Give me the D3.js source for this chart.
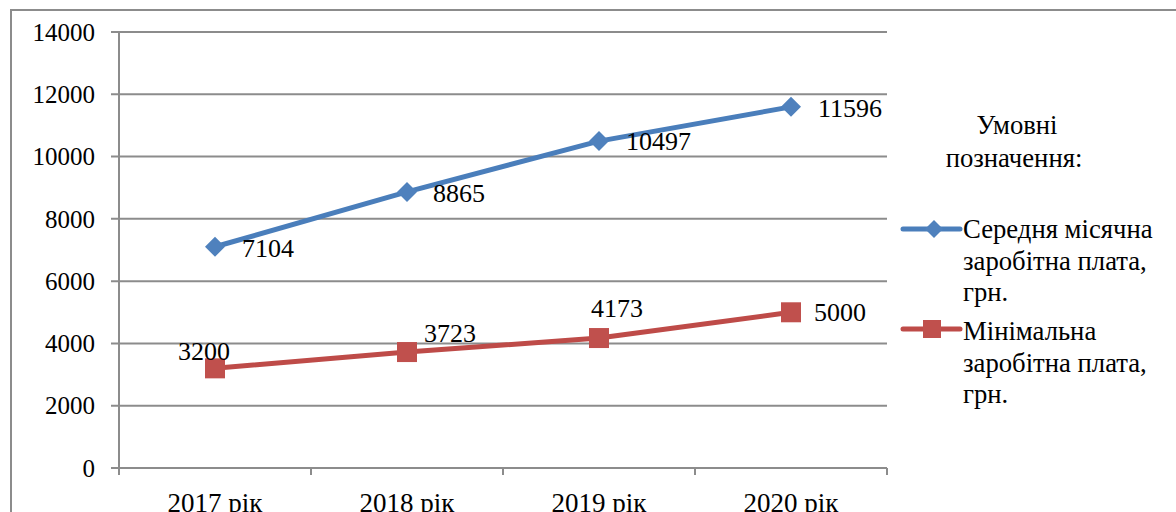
<!DOCTYPE html>
<html><head><meta charset="utf-8">
<script src="https://cdn.jsdelivr.net/npm/d3@7"></script>
<style>body{margin:0;background:#fff;} svg{display:block;}</style>
</head><body>
<svg id="c" width="1176" height="512"></svg>
<script>
const categories = ["2017 рік", "2018 рік", "2019 рік", "2020 рік"];
const avgWage = [7104, 8865, 10497, 11596];
const minWage = [3200, 3723, 4173, 5000];
const seriesNames = ["Середня місячна заробітна плата, грн.", "Мінімальна заробітна плата, грн."];
const yTicks = [0, 2000, 4000, 6000, 8000, 10000, 12000, 14000];
const legendTitle = ["Умовні", "позначення:"];

const FONT = "Liberation Serif";
const svg = d3.select("#c");
const grid = "#8c8c8c";
const m = {l:119, t:32, r:887, b:468};

// outer border
svg.append("path").attr("d", "M11,512V10H1176").attr("fill","none").attr("stroke", grid).attr("stroke-width", 2);

const x = d3.scaleBand().domain(categories).range([m.l, m.r]).padding(0);
const y = d3.scaleLinear().domain([0, 14000]).range([m.b, m.t]);

// gridlines
svg.append("g").selectAll("line").data(yTicks).join("line")
  .attr("x1", m.l - 8).attr("x2", m.r).attr("y1", d => y(d)).attr("y2", d => y(d))
  .attr("stroke", grid).attr("stroke-width", 2);

// y axis line
svg.append("line").attr("x1", m.l).attr("x2", m.l).attr("y1", m.t).attr("y2", m.b + 7)
  .attr("stroke", grid).attr("stroke-width", 2);
// x ticks
const xt = categories.map(c => x(c)).concat([x(categories[categories.length-1]) + x.bandwidth()]);
svg.append("g").selectAll("line").data(xt.slice(1)).join("line")
  .attr("x1", d => d).attr("x2", d => d).attr("y1", m.b).attr("y2", m.b + 7)
  .attr("stroke", grid).attr("stroke-width", 2);

// y tick labels
svg.append("g").selectAll("text").data(yTicks).join("text")
  .attr("x", 95).attr("y", d => y(d)).attr("dy", "0.35em")
  .attr("text-anchor", "end").style("font-family", FONT).attr("font-size", 25).attr("fill", "#000")
  .text(d => d);

// x labels
svg.append("g").selectAll("text").data(categories).join("text")
  .attr("x", d => x(d) + x.bandwidth()/2).attr("y", 512)
  .attr("text-anchor", "middle").style("font-family", FONT).attr("font-size", 27).attr("fill", "#000")
  .text(d => d);

const cx = (d, i) => x(categories[i]) + x.bandwidth()/2;
const line = d3.line().x((d,i) => cx(d,i)).y(d => y(d));

const blueLine = "#4a7ebb", blueMark = "#4f81bd";
const redLine = "#be4b48", redMark = "#c0504d";

svg.append("path").datum(avgWage).attr("d", line).attr("fill","none").attr("stroke", blueLine).attr("stroke-width", 5).attr("stroke-linejoin","round");
svg.append("path").datum(minWage).attr("d", line).attr("fill","none").attr("stroke", redLine).attr("stroke-width", 5).attr("stroke-linejoin","round");

const diamond = s => `M0,${-s}L${s},0L0,${s}L${-s},0Z`;
svg.append("g").selectAll("path").data(avgWage).join("path")
  .attr("d", diamond(10)).attr("transform", (d,i) => `translate(${cx(d,i)},${y(d)})`).attr("fill", blueMark);
svg.append("g").selectAll("rect").data(minWage).join("rect")
  .attr("x", (d,i) => cx(d,i) - 10).attr("y", d => y(d) - 10).attr("width", 20).attr("height", 20).attr("fill", redMark);

// data labels
const blueOff = [[27,10],[26,10],[27,9],[27,10]];
const redOff = [[-37,-8],[17,-10],[-8,-21],[23,9]];
svg.append("g").selectAll("text").data(avgWage).join("text")
  .attr("x", (d,i) => cx(d,i) + blueOff[i][0]).attr("y", (d,i) => y(d) + blueOff[i][1])
  .style("font-family", FONT).attr("font-size", 26).attr("fill", "#000").text(d => d);
svg.append("g").selectAll("text").data(minWage).join("text")
  .attr("x", (d,i) => cx(d,i) + redOff[i][0]).attr("y", (d,i) => y(d) + redOff[i][1])
  .style("font-family", FONT).attr("font-size", 26).attr("fill", "#000").text(d => d);

// legend
const lg = svg.append("g");
const lt = (xx, yy, t, anchor) => lg.append("text").attr("x", xx).attr("y", yy).attr("text-anchor", anchor || "start")
  .style("font-family", FONT).attr("font-size", 26.7).attr("fill", "#000").text(t);
lt(1017, 134, legendTitle[0], "middle");
lt(1014, 167, legendTitle[1], "middle");

const wrap = [["Середня місячна", "заробітна плата,", "грн."], ["Мінімальна", "заробітна плата,", "грн."]];
const items = [
  {name: seriesNames[0], lines: wrap[0], ly: 229, ty: 238, c: blueLine, mk: "d", mc: blueMark},
  {name: seriesNames[1], lines: wrap[1], ly: 329, ty: 340, c: redLine, mk: "s", mc: redMark}
];
items.forEach(it => {
  lg.append("line").attr("x1", 903).attr("x2", 960).attr("y1", it.ly).attr("y2", it.ly).attr("stroke", it.c).attr("stroke-width", 5).attr("stroke-linecap","round");
  if (it.mk === "d") lg.append("path").attr("d", diamond(9)).attr("transform", `translate(934,${it.ly})`).attr("fill", it.mc);
  else lg.append("rect").attr("x", 923).attr("y", it.ly - 9).attr("width", 18).attr("height", 18).attr("fill", it.mc);
  it.lines.forEach((t, k) => lt(963, it.ty + k*31.5, t));
});
</script>
</body></html>
